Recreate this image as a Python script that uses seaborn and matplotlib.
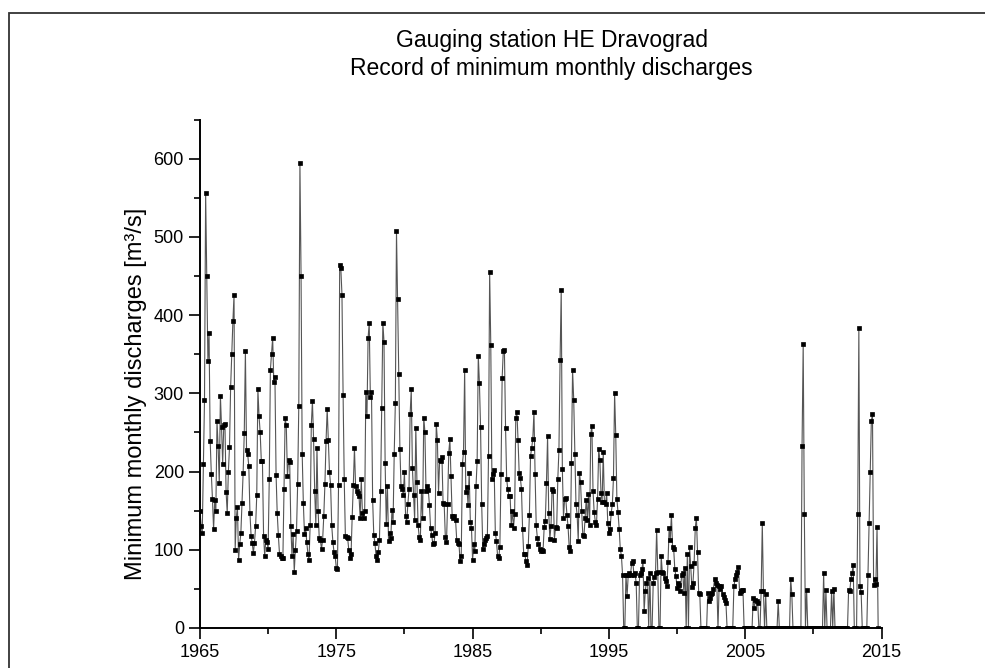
import pandas as pd
import matplotlib
matplotlib.use("Agg")
import matplotlib.pyplot as plt
from matplotlib.patches import Rectangle
from matplotlib.ticker import MultipleLocator
import seaborn as sns

# minimum monthly discharges [m3/s] at HE Dravograd, one row per year (Jan..Dec)
q_1965_1974 = [
    150, 130, 121, 210, 291, 556, 450, 341, 377, 239, 197, 165,
    126, 163, 150, 264, 232, 185, 297, 257, 210, 260, 261, 174,
    147, 199, 231, 308, 350, 392, 426, 100, 141, 155, 87, 107,
    121, 160, 198, 249, 354, 228, 222, 207, 147, 118, 109, 96,
    109, 130, 170, 305, 271, 250, 214, 213, 118, 92, 113, 110,
    101, 190, 330, 350, 371, 315, 321, 196, 147, 119, 95, 92,
    90, 89, 177, 268, 259, 194, 215, 212, 130, 92, 120, 72,
    100, 124, 184, 284, 595, 450, 222, 160, 120, 128, 110, 95,
    87, 131, 259, 290, 242, 175, 132, 230, 150, 115, 112, 101,
    113, 143, 184, 239, 280, 240, 200, 183, 131, 110, 97, 92,
]
q_1975_1984 = [
    77, 75, 183, 464, 460, 426, 298, 190, 118, 116, 115, 100,
    89, 94, 142, 183, 230, 181, 175, 173, 169, 141, 190, 147,
    141, 149, 302, 271, 371, 390, 295, 302, 164, 119, 109, 92,
    87, 97, 113, 175, 281, 390, 366, 211, 133, 182, 111, 122,
    115, 151, 136, 223, 288, 507, 420, 325, 229, 181, 178, 170,
    199, 143, 136, 158, 177, 273, 305, 205, 170, 138, 256, 187,
    132, 116, 113, 175, 141, 269, 251, 175, 181, 176, 157, 128,
    119, 107, 108, 121, 261, 240, 173, 215, 213, 219, 160, 158,
    116, 110, 158, 224, 241, 194, 143, 140, 143, 138, 113, 109,
    107, 86, 92, 209, 225, 330, 174, 180, 157, 198, 136, 128,
]
q_1985_1995 = [
    87, 107, 98, 181, 214, 348, 313, 257, 158, 101, 107, 113,
    115, 117, 220, 455, 362, 191, 197, 202, 122, 111, 92, 89,
    104, 197, 319, 354, 355, 256, 190, 177, 169, 169, 132, 150,
    128, 146, 269, 276, 240, 198, 192, 178, 127, 94, 94, 85,
    80, 105, 145, 220, 230, 242, 276, 197, 131, 115, 107, 101,
    98, 100, 98, 129, 137, 185, 245, 147, 114, 130, 178, 175,
    113, 129, 128, 190, 228, 342, 432, 203, 141, 165, 166, 145,
    130, 104, 98, 211, 330, 292, 222, 158, 145, 111, 198, 187,
    150, 119, 117, 141, 164, 138, 171, 132, 248, 258, 175, 148,
    136, 131, 165, 229, 215, 173, 161, 225, 161, 158, 172, 134,
    121, 126, 147, 158, 192, 300, 247, 165, 148, 127, 101, 92,
]
# from 1996 on the record has gaps, drawn as zero
q_1996_2005 = [
    68, 0, 0, 68, 41, 68, 70, 68, 83, 85, 68, 70,
    57, 0, 0, 68, 70, 75, 85, 21, 47, 58, 64, 0,
    70, 0, 0, 58, 65, 70, 125, 72, 0, 0, 92, 71,
    70, 64, 60, 53, 84, 128, 113, 145, 104, 101, 75, 66,
    51, 57, 55, 47, 68, 70, 45, 77, 0, 94, 0, 103,
    79, 52, 58, 83, 128, 141, 97, 45, 43, 0, 0, 0,
    0, 0, 0, 45, 34, 38, 43, 45, 50, 63, 58, 55,
    0, 53, 50, 53, 43, 40, 36, 32, 0, 0, 0, 0,
    0, 0, 53, 62, 68, 72, 78, 45, 47, 48, 48, 0,
    0, 0, 0, 0, 0, 0, 0, 38, 26, 36, 34, 32,
]
q_2006_2014 = [
    0, 0, 47, 134, 47, 0, 43, 0, 0, 0, 0, 0,
    0, 0, 0, 0, 0, 34, 0, 0, 0, 0, 0, 0,
    0, 0, 0, 0, 63, 43, 0, 0, 0, 0, 0, 0,
    0, 0, 233, 363, 146, 0, 49, 0, 0, 0, 0, 0,
    0, 0, 0, 0, 0, 0, 0, 0, 0, 70, 0, 48,
    0, 0, 0, 0, 47, 0, 50, 0, 0, 0, 0, 0,
    0, 0, 0, 0, 0, 0, 0, 49, 47, 62, 70, 81,
    0, 0, 0, 146, 384, 53, 46, 0, 0, 0, 0, 0,
    68, 134, 199, 265, 273, 55, 63, 56, 129, 0,
]

discharge = q_1965_1974 + q_1975_1984 + q_1985_1995 + q_1996_2005 + q_2006_2014
months = pd.date_range("1965-01-01", periods=len(discharge), freq="MS")
df = pd.DataFrame({"year": months.year + (months.month - 1) / 12, "q": discharge})

sns.set_style("ticks")
plt.rcParams["font.family"] = ["Liberation Sans", "DejaVu Sans"]
plt.rcParams["text.color"] = "black"
plt.rcParams["axes.labelcolor"] = "black"

fig = plt.figure(figsize=(9.85, 6.68), dpi=100)
ax = fig.add_axes([0.203, 0.06, 0.692, 0.761])

sns.lineplot(data=df, x="year", y="q", ax=ax, errorbar=None,
             color="#555555", linewidth=0.8, marker="s", markersize=2.8,
             markerfacecolor="black", markeredgecolor="black", markeredgewidth=0.5)

ax.set_xlim(1965, 2015)
ax.set_ylim(0, 650)
ax.set_xticks(range(1965, 2016, 10))
ax.xaxis.set_minor_locator(MultipleLocator(5))
ax.set_yticks(range(0, 601, 100))
ax.yaxis.set_minor_locator(MultipleLocator(50))
ax.tick_params(which="major", length=8, width=1.2, labelsize=13, color="black", labelcolor="black")
ax.tick_params(which="minor", length=4, width=1.2, color="black")
sns.despine(ax=ax)
for side in ["left", "bottom"]:
    ax.spines[side].set_linewidth(1.4)
    ax.spines[side].set_color("black")

ax.set_xlabel("")
ax.set_ylabel("Minimum monthly discharges [m³/s]", fontsize=17)
ax.yaxis.set_label_coords(-0.077, 0.46)

fig.text(0.56, 1 - 41 / 668, "Gauging station HE Dravograd", ha="center", va="center", fontsize=16.5)
fig.text(0.56, 1 - 69 / 668, "Record of minimum monthly discharges", ha="center", va="center", fontsize=16.5)

# grey frame round the figure (cut off at right and bottom like the original)
fig.patches.append(Rectangle((0.0096, -0.05), 1.2, 1.05 - 13 / 668, transform=fig.transFigure,
                             fill=False, edgecolor="#333333", linewidth=1.3))

fig.savefig("out.png", dpi=100)
